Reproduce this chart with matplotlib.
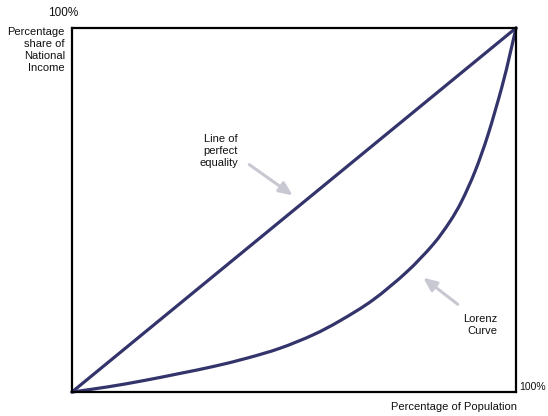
import matplotlib
matplotlib.use("Agg")
import matplotlib.pyplot as plt
from matplotlib.path import Path
from matplotlib.patches import PathPatch

plt.rcParams['font.family'] = ['Liberation Sans', 'DejaVu Sans']

# Data (fractions of population / income)
equality_x = [0.0, 1.0]
equality_y = [0.0, 1.0]
lorenz_x = [0.0, 0.08, 0.16, 0.243, 0.318, 0.394, 0.468, 0.543, 0.604, 0.678, 0.754, 0.813, 0.851, 0.878, 0.908, 0.937, 0.968, 0.986, 1.0]
lorenz_y = [0.0, 0.014, 0.031, 0.051, 0.070, 0.093, 0.120, 0.157, 0.196, 0.253, 0.330, 0.405, 0.468, 0.525, 0.607, 0.707, 0.837, 0.926, 1.0]

W, H = 548, 416
fig = plt.figure(figsize=(W / 100, H / 100), dpi=100)
L, R, T, B = 72, 516, 28, 392
ax = fig.add_axes([L / W, (H - B) / H, (R - L) / W, (B - T) / H])
ax.set_xlim(0, 1)
ax.set_ylim(0, 1)
ax.set_xticks([])
ax.set_yticks([])
for s in ax.spines.values():
    s.set_linewidth(1.6)
    s.set_color('black')

line_color = '#34346c'
ax.plot(equality_x, equality_y, color=line_color, lw=2.3, solid_capstyle='round', clip_on=False)

# Smooth Lorenz curve: Catmull-Rom through the read points, drawn as cubic Bezier path
verts = [(lorenz_x[0], lorenz_y[0])]
codes = [Path.MOVETO]
n = len(lorenz_x)
for i in range(n - 1):
    p0 = (lorenz_x[max(i - 1, 0)], lorenz_y[max(i - 1, 0)])
    p1 = (lorenz_x[i], lorenz_y[i])
    p2 = (lorenz_x[i + 1], lorenz_y[i + 1])
    p3 = (lorenz_x[min(i + 2, n - 1)], lorenz_y[min(i + 2, n - 1)])
    c1 = (p1[0] + (p2[0] - p0[0]) / 6, p1[1] + (p2[1] - p0[1]) / 6)
    c2 = (p2[0] - (p3[0] - p1[0]) / 6, p2[1] - (p3[1] - p1[1]) / 6)
    verts += [c1, c2, p2]
    codes += [Path.CURVE4] * 3
ax.add_patch(PathPatch(Path(verts, codes), facecolor='none', edgecolor=line_color,
                       lw=2.3, capstyle='round', clip_on=False))

def fx(px):
    return (px - L) / (R - L)

def fy(py):
    return (B - py) / (B - T)

fs = 8
# Arrows
arrow_col = '#c8c8d2'
ax.annotate('', xy=(fx(295), fy(197)), xytext=(fx(247), fy(163)),
            arrowprops=dict(arrowstyle='-|>,head_length=0.8,head_width=0.35', color=arrow_col, lw=2.2))
ax.annotate('', xy=(fx(421), fy(276)), xytext=(fx(460), fy(306)),
            arrowprops=dict(arrowstyle='-|>,head_length=0.8,head_width=0.35', color=arrow_col, lw=2.2))

# Text labels (figure pixel coords)
def ftext(px, py, s, ha='left', va='center', size=fs, **kw):
    fig.text(px / W, (H - py) / H, s, ha=ha, va=va, fontsize=size, color='#111111', **kw)

ftext(238, 151, 'Line of\nperfect\nequality', ha='right', linespacing=1.3)
ftext(497, 325, 'Lorenz\nCurve', ha='right', linespacing=1.2)
ftext(78, 13, '100%', ha='right', size=8.5)
ftext(65, 50, 'Percentage\nshare of\nNational\nIncome', ha='right', linespacing=1.28)
ftext(546, 387, '100%', ha='right', size=7.5)
ftext(517, 407, 'Percentage of Population', ha='right')

fig.savefig('out.png', dpi=100)
